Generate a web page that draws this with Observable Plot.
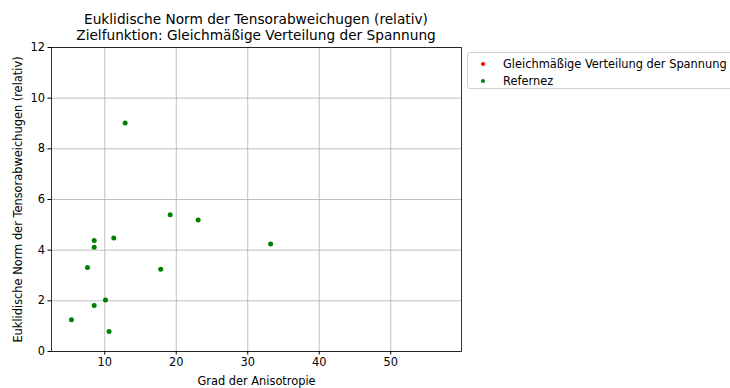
<!DOCTYPE html>
<html>
<head>
<meta charset="utf-8">
<script src="https://cdn.jsdelivr.net/npm/d3@7"></script>
<script src="https://cdn.jsdelivr.net/npm/@observablehq/plot@0.6"></script>
<style>
  html, body { margin: 0; padding: 0; background: #fff; }
  #wrap { position: relative; width: 730px; height: 388px; font-family: "DejaVu Sans", sans-serif; color: #000; }
  #title { position: absolute; left: 31px; width: 450px; top: 11px; text-align: center; font-size: 13.7px; line-height: 16px; }
  #legend { position: absolute; left: 467px; top: 52px; width: 270px; height: 37px; border: 1px solid #d0d0d0; border-radius: 3px; box-sizing: border-box; font-size: 11.4px; }
  .li { position: absolute; left: 0; height: 14px; line-height: 14px; }
  .li .dot { position: absolute; left: 13px; top: 5px; width: 4px; height: 4px; border-radius: 50%; }
  .li .txt { position: absolute; left: 35px; white-space: nowrap; }
</style>
</head>
<body>
<div id="wrap">
  <div id="chart"></div>
  <div id="title">Euklidische Norm der Tensorabweichugen (relativ)<br>Zielfunktion: Gleichmäßige Verteilung der Spannung</div>
  <div id="legend"></div>
</div>
<script>
// Data
const seriesNames = ["Gleichmäßige Verteilung der Spannung", "Refernez"];
const seriesColors = ["#ff0000", "#008000"];
const gleichX = [];
const gleichY = [];
const refX = [5.34, 7.58, 8.52, 8.52, 8.52, 10.1, 10.6, 11.26, 12.85, 17.83, 19.15, 23.06, 33.2];
const refY = [1.25, 3.32, 4.38, 4.12, 1.82, 2.03, 0.79, 4.48, 9.02, 3.25, 5.40, 5.19, 4.24];
const xTicks = [10, 20, 30, 40, 50];
const yTicks = [0, 2, 4, 6, 8, 10, 12];
const xLabel = "Grad der Anisotropie";
const yLabel = "Euklidische Norm der Tensorabweichugen (relativ)";

const gleich = gleichX.map((x, i) => ({x, y: gleichY[i]}));
const ref = refX.map((x, i) => ({x, y: refY[i]}));

const chart = Plot.plot({
  width: 730,
  height: 388,
  marginLeft: 51,
  marginRight: 269,
  marginTop: 47,
  marginBottom: 37,
  style: { fontFamily: "DejaVu Sans, sans-serif", fontSize: "11.4px", color: "#000", background: "#fff" },
  x: { domain: [2.55, 59.9] },
  y: { domain: [0, 12] },
  marks: [
    Plot.gridX(xTicks, { stroke: "#b0b0b0", strokeOpacity: 1, strokeWidth: 0.8 }),
    Plot.gridY(yTicks, { stroke: "#b0b0b0", strokeOpacity: 1, strokeWidth: 0.8 }),
    Plot.axisX({ ticks: xTicks, tickSize: 3.5, tickPadding: 3, label: xLabel, labelAnchor: "center", labelArrow: "none", labelOffset: 33 }),
    Plot.axisY({ ticks: yTicks, tickSize: 3.5, tickPadding: 3, label: yLabel, labelAnchor: "center", labelArrow: "none", labelOffset: 38 }),
    Plot.frame({ stroke: "#000", strokeWidth: 0.8 }),
    Plot.dot(gleich, { x: "x", y: "y", r: 2.5, fill: seriesColors[0], stroke: "none" }),
    Plot.dot(ref, { x: "x", y: "y", r: 2.5, fill: seriesColors[1], stroke: "none" })
  ]
});
document.getElementById("chart").appendChild(chart);

const leg = document.getElementById("legend");
seriesNames.forEach((name, i) => {
  const d = document.createElement("div");
  d.className = "li";
  d.style.top = (4 + i * 16.5) + "px";
  d.innerHTML = `<span class="dot" style="background:${seriesColors[i]}"></span><span class="txt"></span>`;
  d.querySelector(".txt").textContent = name;
  leg.appendChild(d);
});
</script>
</body>
</html>
